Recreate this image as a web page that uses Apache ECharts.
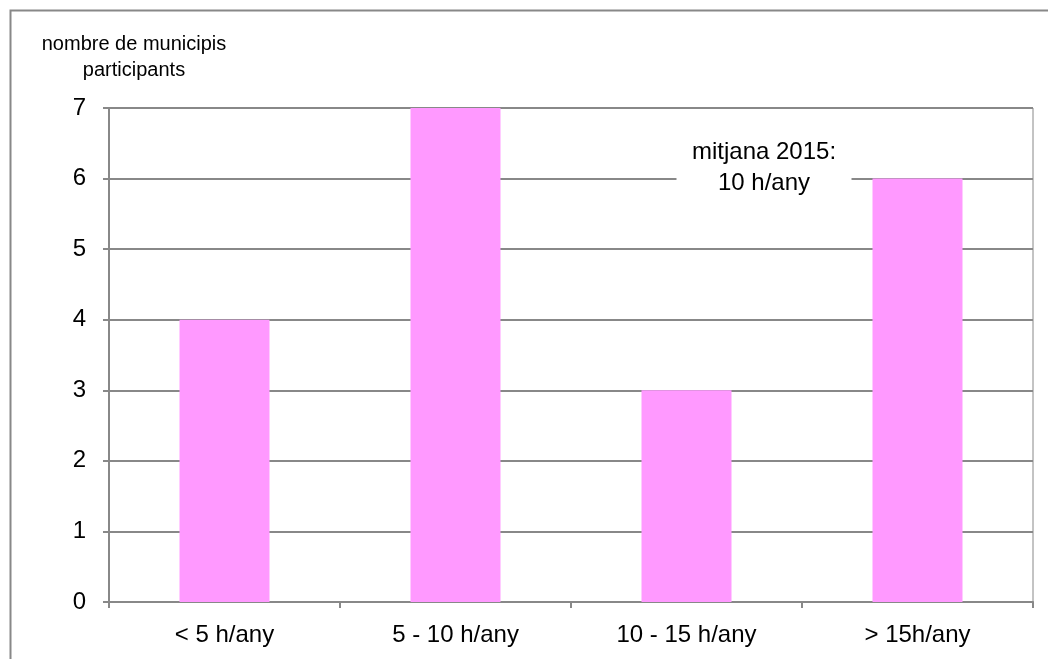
<!DOCTYPE html>
<html>
<head>
<meta charset="utf-8">
<script src="https://cdn.jsdelivr.net/npm/echarts@6/dist/echarts.min.js"></script>
<style>
html,body{margin:0;padding:0;background:#fff;}
#c{width:1048px;height:659px;}
</style>
</head>
<body>
<div id="c"></div>
<script>
var categories = ['< 5 h/any', '5 - 10 h/any', '10 - 15 h/any', '> 15h/any'];
var values = [4, 7, 3, 6];
var yTitle = 'nombre de municipis\nparticipants';
var note = 'mitjana 2015:\n10 h/any';

var chart = echarts.init(document.getElementById('c'), null, {renderer: 'canvas'});
var lineColor = '#888888';
var font = '"Liberation Sans", Arial, sans-serif';
chart.setOption({
  animation: false,
  backgroundColor: '#ffffff',
  grid: {left: 109, top: 108, right: 15, bottom: 57, show: true, borderColor: lineColor, borderWidth: 1, backgroundColor: 'transparent'},
  xAxis: {
    type: 'category',
    data: categories,
    axisLine: {lineStyle: {color: lineColor, width: 2}},
    axisTick: {show: true, length: 6, lineStyle: {color: lineColor, width: 2}},
    axisLabel: {color: '#000', fontFamily: font, fontSize: 24, margin: 21}
  },
  yAxis: {
    type: 'value',
    min: 0, max: 7, interval: 1,
    axisLine: {show: true, lineStyle: {color: lineColor, width: 2}},
    axisTick: {show: true, length: 6, lineStyle: {color: lineColor, width: 2}},
    axisLabel: {color: '#000', fontFamily: font, fontSize: 24, margin: 23},
    splitLine: {lineStyle: {color: lineColor, width: 2}}
  },
  series: [{
    type: 'bar',
    data: values,
    barWidth: 90,
    itemStyle: {color: '#FF99FF'}
  }],
  graphic: [
    {type: 'rect', shape: {x: 10.5, y: 10.5, width: 1200, height: 800}, style: {fill: 'none', stroke: lineColor, lineWidth: 2}, silent: true},
    {type: 'text', x: 134, y: 57, style: {text: yTitle, font: '20px ' + font, fill: '#000', align: 'center', verticalAlign: 'middle', lineHeight: 26}},
    {type: 'text', x: 764, y: 168, z: 100, style: {text: note, font: '24px ' + font, fill: '#000', align: 'center', verticalAlign: 'middle', lineHeight: 31, backgroundColor: '#fff', width: 175, padding: [0, 0, 0, 0]}}
  ]
});
</script>
</body>
</html>
